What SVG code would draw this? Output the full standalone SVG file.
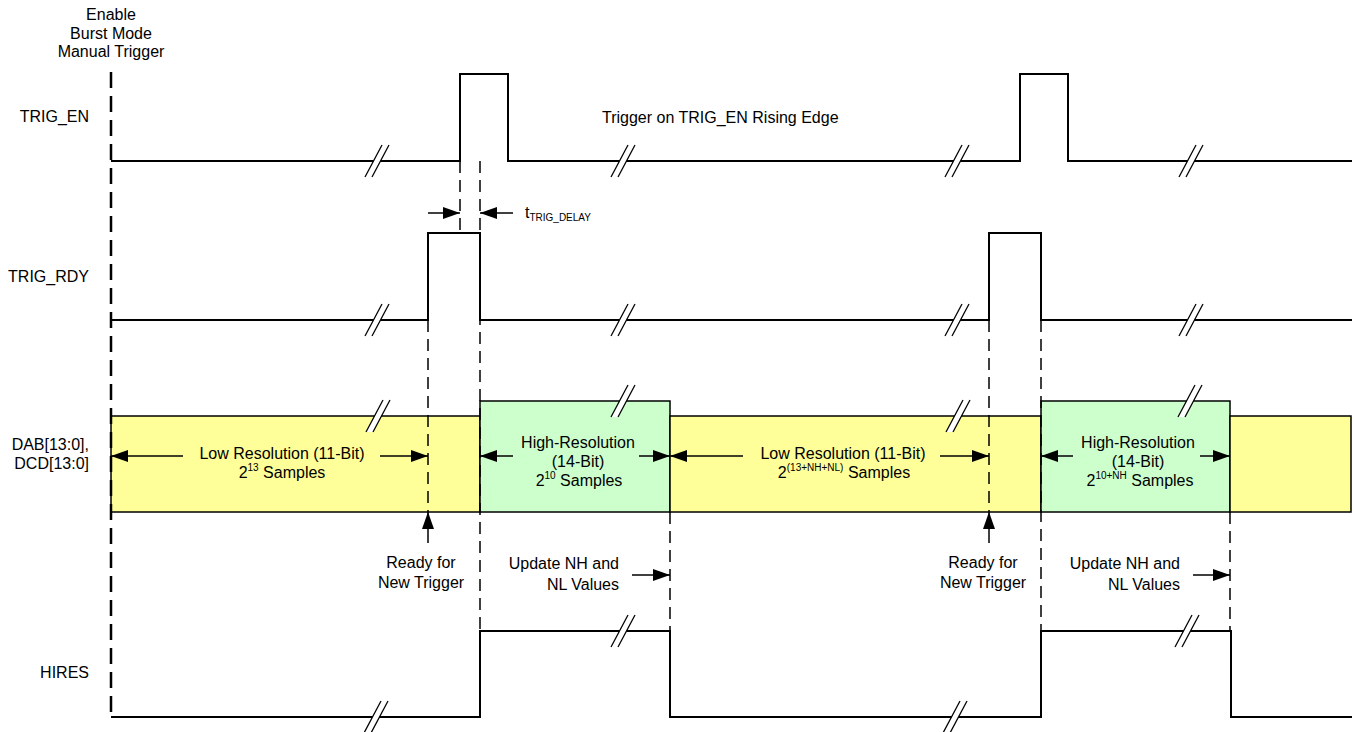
<svg xmlns="http://www.w3.org/2000/svg" xmlns:xlink="http://www.w3.org/1999/xlink" width="1354" height="732" viewBox="0 0 1354 732">
<style>
.t{font-family:"Liberation Sans",Arial,sans-serif;font-size:16px;fill:#000}
.m{text-anchor:middle}
.e{text-anchor:end}
.sig{fill:none;stroke:#000;stroke-width:2}
.dash{fill:none;stroke:#000;stroke-width:1.5;stroke-dasharray:12 7}
.main{fill:none;stroke:#000;stroke-width:2.5;stroke-dasharray:16 8}
.arr{fill:none;stroke:#000;stroke-width:1.5;marker-end:url(#ah)}
.lo{fill:#FFFF99;stroke:#000;stroke-width:1.5}
.hi{fill:#CCFFCC;stroke:#000;stroke-width:1.5}
.bk{stroke:#000;stroke-width:1.3}
</style>
<defs>
<marker id="ah" markerWidth="17" markerHeight="12" refX="17" refY="6" orient="auto" markerUnits="userSpaceOnUse">
<path d="M0,0 L17,6 L0,12 z" fill="#000"/>
</marker>
<g id="brk">
<polygon points="-12,16 -5,16 12,-16 5,-16" fill="#fff"/>
<line class="bk" x1="-12" y1="16" x2="5" y2="-16"/>
<line class="bk" x1="-5" y1="16" x2="12" y2="-16"/>
</g>
</defs>
<rect width="1354" height="732" fill="#fff"/>

<g id="header">
<text class="t m" x="111" y="20">Enable</text>
<text class="t m" x="111" y="39">Burst Mode</text>
<text class="t m" x="111" y="57">Manual Trigger</text>
</g>

<g id="data">
<text class="t e" x="89" y="450">DAB[13:0],</text>
<text class="t e" x="89" y="469">DCD[13:0]</text>
<rect class="lo" x="111" y="416" width="369" height="96"/>
<rect class="hi" x="480" y="401" width="190" height="111"/>
<rect class="lo" x="670" y="416" width="371" height="96"/>
<rect class="hi" x="1041" y="401" width="189" height="111"/>
<rect class="lo" x="1230" y="416" width="121" height="96"/>
<use xlink:href="#brk" x="378" y="416"/>
<use xlink:href="#brk" x="623" y="401"/>
<use xlink:href="#brk" x="958" y="416"/>
<use xlink:href="#brk" x="1190" y="401"/>
<text class="t m" x="282" y="459">Low Resolution (11-Bit)</text>
<text class="t m" x="282" y="478">2<tspan font-size="10" dy="-7">13</tspan><tspan dy="7"> Samples</tspan></text>
<text class="t m" x="578" y="448">High-Resolution</text>
<text class="t m" x="578" y="467">(14-Bit)</text>
<text class="t m" x="579" y="486">2<tspan font-size="10" dy="-7">10</tspan><tspan dy="7"> Samples</tspan></text>
<text class="t m" x="843" y="459">Low Resolution (11-Bit)</text>
<text class="t m" x="844" y="478">2<tspan font-size="10" dy="-7">(13+NH+NL)</tspan><tspan dy="7"> Samples</tspan></text>
<text class="t m" x="1138" y="448">High-Resolution</text>
<text class="t m" x="1138" y="467">(14-Bit)</text>
<text class="t m" x="1140" y="486">2<tspan font-size="10" dy="-7">10+NH</tspan><tspan dy="7"> Samples</tspan></text>
</g>

<g id="connectors">
<line class="main" x1="111" y1="72" x2="111" y2="717"/>
<line class="dash" x1="460" y1="161" x2="460" y2="232"/>
<line class="dash" x1="480" y1="161" x2="480" y2="631"/>
<line class="dash" x1="428" y1="320" x2="428" y2="512"/>
<line class="dash" x1="670" y1="512" x2="670" y2="631"/>
<line class="dash" x1="989" y1="320" x2="989" y2="512"/>
<line class="dash" x1="1041" y1="320" x2="1041" y2="631"/>
<line class="dash" x1="1230" y1="512" x2="1230" y2="631"/>
<line class="arr" x1="428" y1="213" x2="460" y2="213"/>
<line class="arr" x1="513" y1="213" x2="480" y2="213"/>
<line class="arr" x1="183" y1="456" x2="111" y2="456"/>
<line class="arr" x1="380" y1="456" x2="428" y2="456"/>
<line class="arr" x1="513" y1="456" x2="480" y2="456"/>
<line class="arr" x1="639" y1="456" x2="670" y2="456"/>
<line class="arr" x1="743" y1="456" x2="670" y2="456"/>
<line class="arr" x1="940" y1="456" x2="989" y2="456"/>
<line class="arr" x1="1073" y1="456" x2="1041" y2="456"/>
<line class="arr" x1="1200" y1="456" x2="1230" y2="456"/>
<line class="arr" x1="428" y1="543" x2="428" y2="512"/>
<line class="arr" x1="989" y1="543" x2="989" y2="512"/>
<line class="arr" x1="632" y1="575" x2="670" y2="575"/>
<line class="arr" x1="1193" y1="575" x2="1230" y2="575"/>
</g>

<g id="annotations">
<text class="t" x="602" y="123">Trigger on TRIG_EN Rising Edge</text>
<text class="t" x="525" y="218">t<tspan font-size="10" dy="3">TRIG_DELAY</tspan></text>
<text class="t m" x="421" y="568">Ready for</text>
<text class="t m" x="421" y="588">New Trigger</text>
<text class="t m" x="983" y="568">Ready for</text>
<text class="t m" x="983" y="588">New Trigger</text>
<text class="t e" x="619" y="569">Update NH and</text>
<text class="t e" x="619" y="590">NL Values</text>
<text class="t e" x="1180" y="569">Update NH and</text>
<text class="t e" x="1180" y="590">NL Values</text>
</g>

<g id="trig_en">
<text class="t e" x="89" y="122">TRIG_EN</text>
<path class="sig" d="M111,161 H460 V74 H508 V161 H1020 V74 H1068 V161 H1352"/>
<use xlink:href="#brk" x="377" y="161"/>
<use xlink:href="#brk" x="623" y="161"/>
<use xlink:href="#brk" x="957" y="161"/>
<use xlink:href="#brk" x="1191" y="161"/>
</g>

<g id="trig_rdy">
<text class="t e" x="89" y="282">TRIG_RDY</text>
<path class="sig" d="M111,320 H428 V233 H480 V320 H989 V233 H1041 V320 H1352"/>
<use xlink:href="#brk" x="377" y="320"/>
<use xlink:href="#brk" x="623" y="320"/>
<use xlink:href="#brk" x="957" y="320"/>
<use xlink:href="#brk" x="1191" y="320"/>
</g>

<g id="hires">
<text class="t e" x="89" y="678">HIRES</text>
<path class="sig" d="M111,717 H480 V631 H670 V717 H1041 V631 H1231 V717 H1352"/>
<use xlink:href="#brk" x="376" y="717"/>
<use xlink:href="#brk" x="623" y="631"/>
<use xlink:href="#brk" x="955" y="717"/>
<use xlink:href="#brk" x="1187" y="631"/>
</g>
</svg>
